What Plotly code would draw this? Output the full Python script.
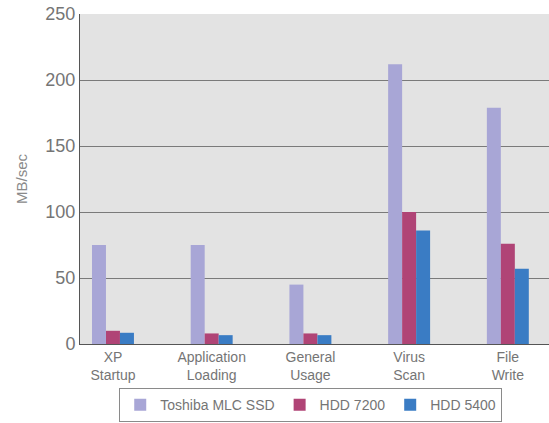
import plotly.graph_objects as go

categories = ["XP<br>Startup", "Application<br>Loading", "General<br>Usage", "Virus<br>Scan", "File<br>Write"]
ssd_mlc = [75, 75, 45, 212, 179]
hdd_7200 = [10, 8, 8, 100, 76]
hdd_5400 = [8.5, 6.7, 6.7, 86, 57]
y_ticks = [0, 50, 100, 150, 200, 250]

series = [
    ("Toshiba MLC SSD", ssd_mlc, "#a8a6d6"),
    ("HDD 7200", hdd_7200, "#b04476"),
    ("HDD 5400", hdd_5400, "#3a7cc4"),
]

fig = go.Figure()
for name, vals, color in series:
    fig.add_trace(go.Bar(x=categories, y=vals, name=name,
                         marker=dict(color=color, line=dict(width=0))))

font_family = "Liberation Sans, Arial, sans-serif"
fig.update_layout(
    width=549, height=423,
    margin=dict(l=80, r=0, t=14, b=79, autoexpand=False),
    paper_bgcolor="white",
    plot_bgcolor="#e3e3e3",
    barmode="group",
    bargap=0.575,
    bargroupgap=0,
    font=dict(family=font_family, color="#757575"),
    showlegend=True,
    legend=dict(orientation="h", xref="container", yref="container",
                x=0.566, xanchor="center", y=0.002, yanchor="bottom",
                bordercolor="#8a8a8a", borderwidth=1, bgcolor="white",
                font=dict(size=14, color="#757575"), itemwidth=30,
                traceorder="normal"),
    xaxis=dict(type="category", range=[-0.334, 4.417], showgrid=False,
               showline=True, linecolor="#555555", linewidth=1,
               tickfont=dict(size=14, color="#757575"), ticks=""),
    yaxis=dict(range=[0, 250], tickvals=y_ticks, showgrid=True,
               gridcolor="#7a7a7a", gridwidth=1, showline=True,
               linecolor="#555555", linewidth=1, zeroline=False,
               tickfont=dict(size=18, color="#757575"), ticks="",
               title=dict(text="MB/sec", font=dict(size=15, color="#8a8a8a"),
                          standoff=14)),
)

fig.write_html("out.html")
